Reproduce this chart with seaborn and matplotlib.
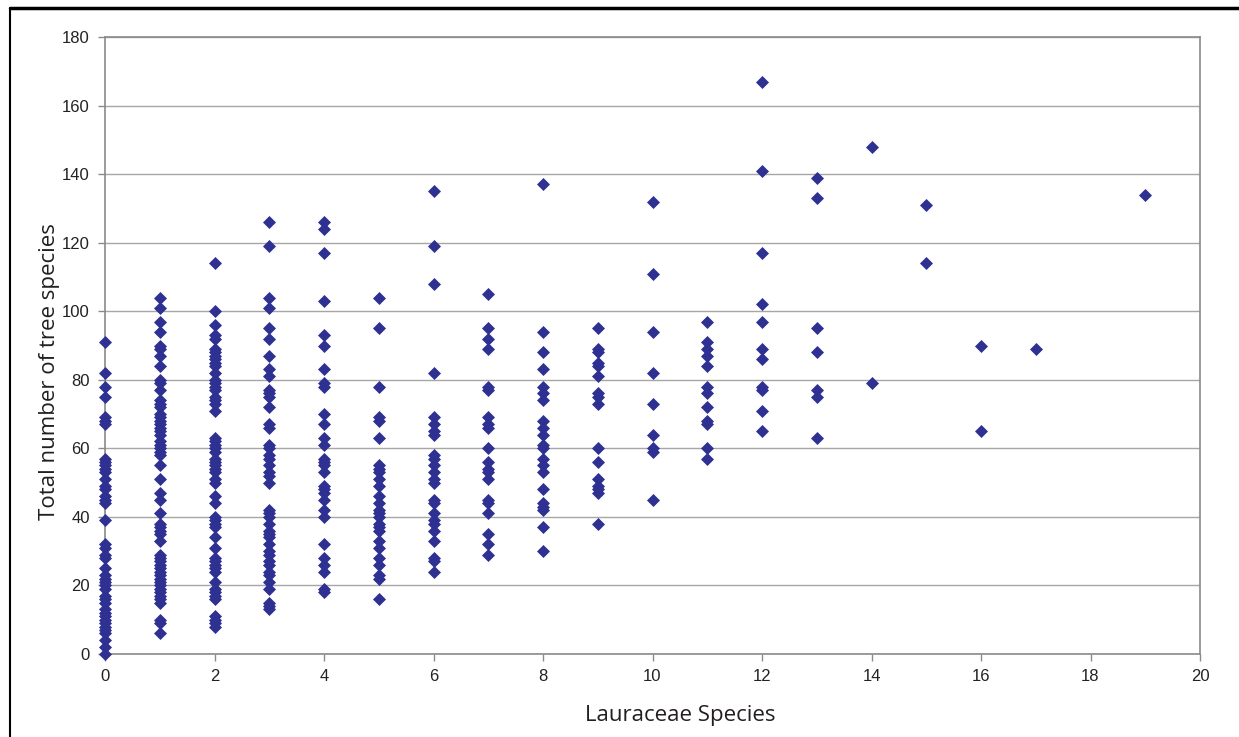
import pandas as pd
import seaborn as sns
import matplotlib.pyplot as plt
from matplotlib.lines import Line2D

# Total number of tree species per plot, grouped by number of Lauraceae species
trees_0 = [91, 82, 78, 75, 69, 68, 67, 57, 56, 55, 54, 53, 51, 49, 48, 46, 45, 44, 39,
           32, 31, 29, 28, 25, 23, 22, 21, 20, 19, 17, 16, 15, 13, 12, 11, 10, 9, 8, 7,
           6, 4, 2, 0]
trees_1 = [104, 101, 97, 94, 90, 89, 87, 84, 80, 79, 77, 74, 73, 72, 70, 69, 68, 67, 66,
           65, 64, 62, 61, 60, 59, 58, 55, 51, 47, 45, 41, 38, 37, 36, 35, 33, 29, 28, 27,
           26, 25, 24, 23, 22, 21, 20, 19, 18, 17, 16, 15, 10, 9, 6]
trees_2 = [114, 100, 96, 93, 92, 89, 88, 87, 86, 85, 84, 82, 80, 79, 78, 77, 75, 74, 73,
           71, 63, 62, 61, 60, 59, 57, 56, 55, 54, 53, 51, 50, 46, 44, 40, 39, 38, 37, 34,
           31, 28, 27, 26, 25, 24, 21, 19, 18, 17, 16, 11, 10, 9, 8]
trees_3 = [126, 119, 104, 101, 95, 92, 87, 83, 81, 77, 76, 75, 72, 67, 66, 61, 60, 58, 57,
           55, 53, 52, 50, 42, 41, 40, 38, 36, 35, 34, 32, 30, 29, 27, 26, 24, 23, 21, 19,
           15, 14, 13]
trees_4 = [126, 124, 117, 103, 93, 90, 83, 79, 78, 70, 67, 63, 61, 57, 56, 55, 53, 49, 48,
           47, 45, 42, 40, 32, 28, 26, 24, 19, 18]
trees_5 = [104, 95, 78, 69, 68, 63, 55, 54, 53, 51, 49, 46, 44, 42, 41, 40, 38, 37, 36,
           33, 31, 28, 26, 23, 22, 16]
trees_6 = [135, 119, 108, 82, 69, 67, 65, 64, 58, 57, 55, 53, 51, 50, 45, 44, 41, 39, 38,
           36, 33, 28, 27, 24]
trees_7 = [105, 95, 92, 89, 78, 77, 69, 67, 66, 60, 56, 54, 53, 51, 45, 44, 41, 35, 32, 29]
trees_8 = [137, 94, 88, 83, 78, 76, 74, 68, 66, 64, 61, 60, 57, 55, 53, 48, 44, 43, 42, 37, 30]
trees_9 = [95, 89, 88, 85, 84, 81, 76, 75, 73, 60, 56, 51, 49, 48, 47, 38]
trees_10 = [132, 111, 94, 82, 73, 64, 60, 59, 45]
trees_11 = [97, 91, 89, 87, 84, 78, 76, 72, 68, 67, 60, 57]
trees_12 = [167, 141, 117, 102, 97, 89, 86, 78, 77, 71, 65]
trees_13 = [139, 133, 95, 88, 77, 75, 63]
trees_14 = [148, 79]
trees_15 = [131, 114]
trees_16 = [90, 65]
trees_17 = [89]
trees_19 = [134]

lauraceae = [0, 1, 2, 3, 4, 5, 6, 7, 8, 9, 10, 11, 12, 13, 14, 15, 16, 17, 19]
groups = [trees_0, trees_1, trees_2, trees_3, trees_4, trees_5, trees_6, trees_7, trees_8,
          trees_9, trees_10, trees_11, trees_12, trees_13, trees_14, trees_15, trees_16,
          trees_17, trees_19]

rows = []
for n, vals in zip(lauraceae, groups):
    for v in vals:
        rows.append({'Lauraceae': n, 'Trees': v})
df = pd.DataFrame(rows)

sns.set_style('white')
plt.rcParams['font.family'] = ['Liberation Sans', 'DejaVu Sans']

fig = plt.figure(figsize=(12.39, 7.37), dpi=100)
ax = fig.add_axes([105 / 1239, 1 - 654 / 737, 1095 / 1239, 617 / 737])

sns.scatterplot(data=df, x='Lauraceae', y='Trees', ax=ax, marker='D', s=44,
                color='#2E3192', linewidth=0, zorder=3, clip_on=False)

ax.set_xlim(0, 20)
ax.set_ylim(0, 180)
ax.set_xticks(range(0, 21, 2))
ax.set_yticks(range(0, 181, 20))
ax.yaxis.grid(True, color='#A6A6A6', linewidth=1)
ax.xaxis.grid(False)
ax.set_axisbelow(True)
for side in ['left', 'bottom', 'top', 'right']:
    ax.spines[side].set_color('#8A8A8A')
    ax.spines[side].set_linewidth(1.2)
ax.tick_params(axis='both', which='major', direction='out', length=5, width=1,
               color='#8A8A8A', labelsize=12, labelcolor='#222222', pad=6,
               left=True, bottom=True)

ax.set_xlabel('Lauraceae Species', fontsize=16, family=['Open Sans', 'DejaVu Sans'],
              color='#231F20')
ax.set_ylabel('Total number of tree species', fontsize=16, family=['Open Sans', 'DejaVu Sans'],
              color='#231F20')
ax.xaxis.set_label_coords(0.525, -0.083)
ax.yaxis.set_label_coords(-0.041, 0.457)

# black frame of the original figure (top and left edges)
fig.add_artist(Line2D([10 / 1239, 1], [1 - 8 / 737, 1 - 8 / 737], color='black', linewidth=2.5))
fig.add_artist(Line2D([10 / 1239, 10 / 1239], [0, 1 - 8 / 737], color='black', linewidth=1.5))

fig.savefig('out.png', dpi=100)
